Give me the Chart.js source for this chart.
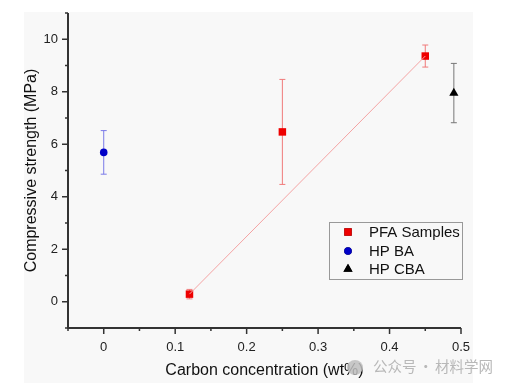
<!DOCTYPE html>
<html>
<head>
<meta charset="utf-8">
<script src="https://cdn.jsdelivr.net/npm/chart.js@4.4.1/dist/chart.umd.min.js"></script>
<style>
  html, body { margin: 0; padding: 0; background: #fff; }
  #wrap { position: relative; width: 511px; height: 385px; }
  #bg { position: absolute; left: 24px; top: 12px; width: 449px; height: 371px; background: #f8f8f8; }
  #chart { position: absolute; left: 0; top: 0; }
  #mark { position: absolute; left: 347px; top: 355px; height: 18px; line-height: 18px; font: 14.5px "Noto Sans CJK SC", sans-serif; color: #b8b8b8; white-space: nowrap; }
  #mark .ic { display: inline-block; width: 16px; height: 15px; border-radius: 50%; background: rgba(190,190,190,0.85); vertical-align: -3px; margin-right: 10px; }
  #mark .dot { margin: 0 2px; }
</style>
</head>
<body>
<div id="wrap">
  <div id="bg"></div>
  <canvas id="chart" width="511" height="385"></canvas>
  <div id="mark"><span class="ic"></span>公众号<span class="dot">·</span>材料学网</div>
</div>
<script>
// data
const pfaX = [0.12, 0.25, 0.45];
const pfaY = [0.29, 6.47, 9.36];
const pfaErr = [0.18, 2.0, 0.42];

const baX = [0];
const baY = [5.69];
const baErr = [0.83];

const cbaX = [0.49];
const cbaY = [7.95];
const cbaErr = [1.13];

const xTicks = [0, 0.1, 0.2, 0.3, 0.4, 0.5];
const xMinor = [-0.05, 0.05, 0.15, 0.25, 0.35, 0.45];
const yTicks = [0, 2, 4, 6, 8, 10];
const yMinor = [-1, 1, 3, 5, 7, 9, 11];

const legendNames = ['PFA Samples', 'HP BA', 'HP CBA'];

function pts(xs, ys) {
    return xs.map((x, i) => ({ x: x, y: ys[i] }));
}

// line from first to last PFA sample
const fitLine = [
    { x: pfaX[0], y: pfaY[0] },
    { x: pfaX[pfaX.length - 1], y: pfaY[pfaY.length - 1] }
];

const errorBars = {
    id: 'errorBars',
    beforeDatasetsDraw(chart) {
        const ctx = chart.ctx;
        const ys = chart.scales.y;
        chart.data.datasets.forEach((ds, di) => {
            if (!ds.err) return;
            const meta = chart.getDatasetMeta(di);
            meta.data.forEach((el, i) => {
                const v = ds.data[i].y;
                const top = ys.getPixelForValue(v + ds.err[i]);
                const bot = ys.getPixelForValue(v - ds.err[i]);
                ctx.save();
                ctx.strokeStyle = ds.errColor;
                ctx.lineWidth = 1;
                ctx.beginPath();
                ctx.moveTo(el.x, top); ctx.lineTo(el.x, bot);
                ctx.moveTo(el.x - 3, top); ctx.lineTo(el.x + 3, top);
                ctx.moveTo(el.x - 3, bot); ctx.lineTo(el.x + 3, bot);
                ctx.stroke();
                ctx.restore();
            });
        });
    }
};

const axesAndLegend = {
    id: 'axesAndLegend',
    afterDraw(chart) {
        const ctx = chart.ctx;
        const xs = chart.scales.x, ys = chart.scales.y;
        const a = chart.chartArea;
        ctx.save();
        ctx.strokeStyle = '#333';
        ctx.lineWidth = 2;
        ctx.beginPath();
        ctx.moveTo(a.left, a.top); ctx.lineTo(a.left, a.bottom); ctx.lineTo(a.right, a.bottom);
        ctx.stroke();
        ctx.lineWidth = 1.5;
        ctx.beginPath();
        xTicks.forEach(v => { const p = xs.getPixelForValue(v); ctx.moveTo(p, a.bottom); ctx.lineTo(p, a.bottom + 6); });
        xMinor.forEach(v => { const p = xs.getPixelForValue(v); ctx.moveTo(p, a.bottom); ctx.lineTo(p, a.bottom + 3); });
        yTicks.forEach(v => { const p = ys.getPixelForValue(v); ctx.moveTo(a.left, p); ctx.lineTo(a.left - 6, p); });
        yMinor.forEach(v => { const p = ys.getPixelForValue(v); ctx.moveTo(a.left, p); ctx.lineTo(a.left - 3, p); });
        ctx.stroke();

        // legend box
        const lx = 329, ly = 222, lw = 133, lh = 57;
        ctx.strokeStyle = '#999';
        ctx.lineWidth = 1;
        ctx.strokeRect(lx + 0.5, ly + 0.5, lw, lh);
        ctx.font = '15px "Liberation Sans", Arial, sans-serif';
        ctx.fillStyle = '#111';
        ctx.textBaseline = 'middle';
        const rows = [ly + 10, ly + 29, ly + 47];
        [0, 1, 2].forEach(i => {
            const ds = chart.data.datasets[i + 1];
            Chart.helpers.drawPoint(ctx, {
                pointStyle: ds.pointStyle, radius: ds.pointRadius, rotation: 0, borderWidth: 0
            }, lx + 19, rows[i]);
            ctx.fillStyle = ds.backgroundColor;
            ctx.fill();
            ctx.fillStyle = '#111';
            ctx.fillText(legendNames[i], lx + 40, rows[i] + 1);
        });
        ctx.restore();
    }
};

const ctx = document.getElementById('chart').getContext('2d');
const myChart = new Chart(ctx, {
    type: 'scatter',
    data: {
        datasets: [
            {
                type: 'line',
                data: fitLine,
                borderColor: '#f4a3a3',
                borderWidth: 1,
                pointRadius: 0,
                fill: false
            },
            {
                label: legendNames[0],
                data: pts(pfaX, pfaY),
                err: pfaErr,
                errColor: '#f07a7a',
                pointStyle: 'rect',
                pointRadius: 5.3,
                backgroundColor: '#ee0000',
                borderWidth: 0
            },
            {
                label: legendNames[1],
                data: pts(baX, baY),
                err: baErr,
                errColor: '#7a7ae8',
                pointStyle: 'circle',
                pointRadius: 3.8,
                backgroundColor: '#0000c8',
                borderWidth: 0
            },
            {
                label: legendNames[2],
                data: pts(cbaX, cbaY),
                err: cbaErr,
                errColor: '#777',
                pointStyle: 'triangle',
                pointRadius: 5.3,
                backgroundColor: '#000',
                borderWidth: 0
            }
        ]
    },
    options: {
        responsive: false,
        animation: false,
        layout: { padding: { left: 22, top: 13, right: 50, bottom: 5 } },
        plugins: {
            legend: { display: false },
            tooltip: { enabled: false }
        },
        scales: {
            x: {
                type: 'linear',
                min: -0.05,
                max: 0.5,
                afterBuildTicks: s => { s.ticks = xTicks.map(v => ({ value: v })); },
                afterFit: s => { s.height = 52; s.paddingLeft = 0; s.paddingRight = 0; },
                grid: { display: false, drawTicks: false },
                border: { display: false },
                ticks: {
                    padding: 12,
                    color: '#222',
                    font: { size: 13, family: '"Liberation Sans", Arial, sans-serif' },
                    callback: v => String(v)
                },
                title: {
                    display: true,
                    text: 'Carbon concentration (wt%)',
                    color: '#111',
                    padding: 0,
                    font: { size: 16, family: '"Liberation Sans", Arial, sans-serif' }
                }
            },
            y: {
                type: 'linear',
                min: -1,
                max: 11,
                afterBuildTicks: s => { s.ticks = yTicks.map(v => ({ value: v })); },
                afterFit: s => { s.width = 46; s.paddingTop = 0; s.paddingBottom = 0; },
                grid: { display: false, drawTicks: false },
                border: { display: false },
                ticks: {
                    padding: 10,
                    color: '#222',
                    font: { size: 13, family: '"Liberation Sans", Arial, sans-serif' }
                },
                title: {
                    display: true,
                    text: 'Compressive strength (MPa)',
                    color: '#111',
                    padding: 0,
                    font: { size: 16, family: '"Liberation Sans", Arial, sans-serif' }
                }
            }
        }
    },
    plugins: [errorBars, axesAndLegend]
});
</script>
</body>
</html>
